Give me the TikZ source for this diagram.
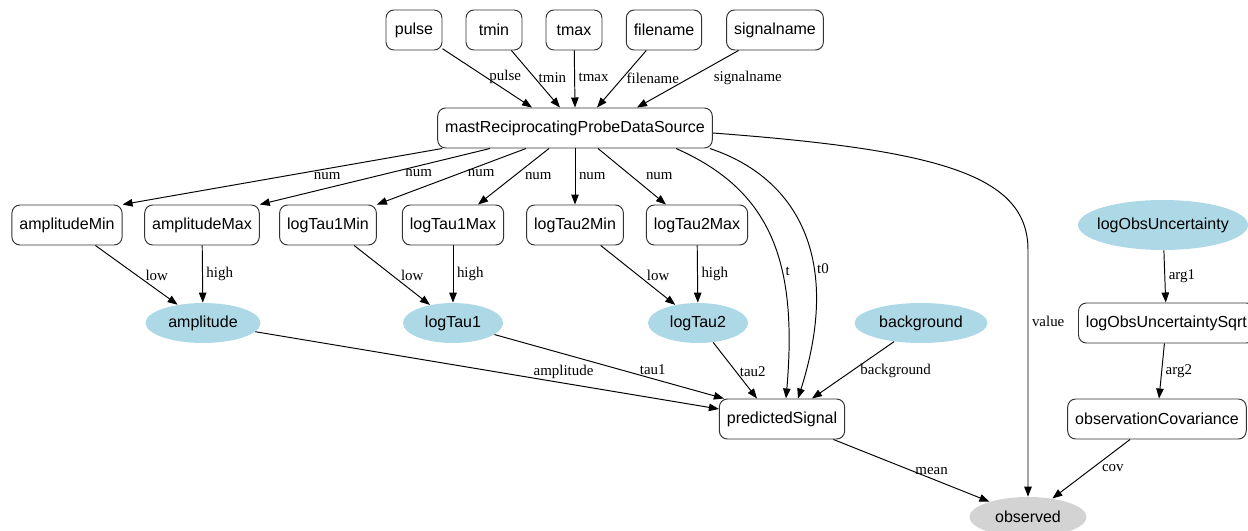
\documentclass[tikz,border=0pt]{standalone}
\usepackage{fontspec}
\newfontfamily\nodefont{Liberation Sans}
\newfontfamily\labelfont{Liberation Serif}
\usetikzlibrary{arrows.meta,shapes.geometric}
\definecolor{paramblue}{RGB}{173,216,230}
\definecolor{obsgrey}{RGB}{211,211,211}

\begin{document}
\begin{tikzpicture}[
        boxnode/.style={
            rectangle,
            rounded corners=0.16cm,
            draw=black!80,
            line width=0.55pt,
            align=center,
            minimum width=1.12cm,
            minimum height=0.8cm,
            inner xsep=0.15cm,
            font=\nodefont\fontsize{9.1}{11}\selectfont
        },
        paramnode/.style={
            ellipse,
            fill=paramblue,
            inner sep=0pt,
            minimum height=0.8cm,
            font=\nodefont\fontsize{9.1}{11}\selectfont
        },
        obsnode/.style={
            ellipse,
            fill=obsgrey,
            inner sep=0pt,
            minimum height=0.8cm,
            font=\nodefont\fontsize{9.1}{11}\selectfont
        },
        arrow/.style={
            -{Triangle[length=2mm,width=1.5mm]},
            line width=0.55pt
        },
        lbl/.style={
            font=\labelfont\fontsize{8.5}{10}\selectfont,
            inner sep=2pt
        }
    ]

        \useasboundingbox (0,0) rectangle (24.96,-10.62);

        % Data source inputs
        \node[boxnode] (pulse) at (8.28,-0.60) {pulse};
        \node[boxnode] (tmin) at (9.88,-0.60) {tmin};
        \node[boxnode] (tmax) at (11.48,-0.60) {tmax};
        \node[boxnode] (fname) at (13.28,-0.60) {filename};
        \node[boxnode] (sname) at (15.50,-0.60) {signalname};
        \node[boxnode] (src) at (11.50,-2.56) {mastReciprocatingProbeDataSource};

        \draw[arrow] (pulse) -- ([xshift=-0.86cm]src.north)
            node[lbl, right, pos=0.48] {pulse};
        \draw[arrow] (tmin) -- ([xshift=-0.30cm]src.north)
            node[lbl, right, pos=0.48] {tmin};
        \draw[arrow] (tmax) -- (src.north)
            node[lbl, right, pos=0.48] {tmax};
        \draw[arrow] (fname) -- ([xshift=0.44cm]src.north)
            node[lbl, right, pos=0.48] {filename};
        \draw[arrow] (sname) -- ([xshift=1.24cm]src.north)
            node[lbl, right=0.4cm, pos=0.48] {signalname};

        % Bounds
        \node[boxnode] (amin) at (1.34,-4.50) {amplitudeMin};
        \node[boxnode] (amax) at (4.04,-4.50) {amplitudeMax};
        \node[boxnode] (t1min) at (6.56,-4.50) {logTau1Min};
        \node[boxnode] (t1max) at (9.06,-4.50) {logTau1Max};
        \node[boxnode] (t2min) at (11.50,-4.50) {logTau2Min};
        \node[boxnode] (t2max) at (13.94,-4.50) {logTau2Max};

        \draw[arrow] ([xshift=0.10cm]src.south west) -- (amin.north east)
            node[lbl, below, pos=0.36] {num};
        \draw[arrow] ([xshift=-1.70cm]src.south) -- (amax.north east)
            node[lbl, below, pos=0.31] {num};
        \draw[arrow] ([xshift=-0.98cm]src.south) -- (t1min.north east)
            node[lbl, below, pos=0.30] {num};
        \draw[arrow] ([xshift=-0.52cm]src.south) -- ([xshift=0.50cm]t1max.north)
            node[lbl, right=0.15cm, pos=0.5] {num};
        \draw[arrow] (src.south) -- (t2min.north)
            node[lbl, right, pos=0.5] {num};
        \draw[arrow] ([xshift=0.46cm]src.south) -- ([xshift=-0.62cm]t2max.north)
            node[lbl, right=0.2cm, pos=0.5] {num};

        % Parameters
        \node[paramnode, minimum width=2.30cm] (amp) at (4.06,-6.46) {amplitude};
        \node[paramnode, minimum width=2.00cm] (tau1) at (9.06,-6.46) {logTau1};
        \node[paramnode, minimum width=2.00cm] (tau2) at (13.96,-6.46) {logTau2};
        \node[paramnode, minimum width=2.66cm] (bg) at (18.42,-6.46) {background};

        \draw[arrow] (amin) -- (amp) node[lbl, right=0.1cm, pos=0.5] {low};
        \draw[arrow] (amax) -- (amp) node[lbl, right, pos=0.5] {high};
        \draw[arrow] (t1min) -- (tau1) node[lbl, right=0.1cm, pos=0.5] {low};
        \draw[arrow] (t1max) -- (tau1) node[lbl, right, pos=0.5] {high};
        \draw[arrow] (t2min) -- (tau2) node[lbl, right=0.1cm, pos=0.5] {low};
        \draw[arrow] (t2max) -- (tau2) node[lbl, right, pos=0.5] {high};

        % Model
        \node[boxnode] (pred) at (15.64,-8.38) {predictedSignal};

        \draw[arrow] (amp) -- ([yshift=0.2cm]pred.west)
            node[lbl, above, pos=0.665] {amplitude};
        \draw[arrow] (tau1) -- ([xshift=0.1cm]pred.north west)
            node[lbl, above, pos=0.69] {tau1};
        \draw[arrow] (tau2) -- ([xshift=-0.5cm]pred.north)
            node[lbl, right, pos=0.52] {tau2};
        \draw[arrow] (bg) -- ([xshift=0.6cm]pred.north)
            node[lbl, right=0.1cm, pos=0.52] {background};
        \draw[arrow] ([xshift=2.02cm]src.south) .. controls (15.40,-3.80)
            and (15.96,-5.20) .. ([xshift=0.08cm]pred.north)
            node[lbl, right, pos=0.63] {t};
        \draw[arrow] ([xshift=-0.06cm]src.south east) .. controls (15.80,-3.50)
            and (16.90,-5.00) .. ([xshift=0.32cm]pred.north)
            node[lbl, right, pos=0.65] {t0};

        % Noise
        \node[paramnode, minimum width=3.40cm, minimum height=1.0cm,
            inner xsep=-0.12cm] (lobs) at (23.26,-4.50) {logObsUncertainty};
        \node[boxnode, anchor=west] (lobssq) at (21.56,-6.46) {logObsUncertaintySqrt};
        \node[boxnode] (obscov) at (23.14,-8.38) {observationCovariance};

        \draw[arrow] (lobs) -- (lobssq) node[lbl, right, pos=0.5] {arg1};
        \draw[arrow] (lobssq) -- (obscov) node[lbl, right, pos=0.5] {arg2};

        % Likelihood
        \node[obsnode, minimum width=2.34cm] (obs) at (20.56,-10.34) {observed};

        \draw[arrow] (pred) -- (obs) node[lbl, right, pos=0.5] {mean};
        \draw[arrow] (obscov) -- (obs) node[lbl, right=0.1cm, pos=0.476] {cov};
        \draw[arrow] ([yshift=-0.1cm]src.east) .. controls (18.80,-3.00)
            and (20.56,-3.50) .. (20.56,-5.00)
            -- (obs.north) node[lbl, right, pos=0.29] {value};

    \end{tikzpicture}
\end{document}
